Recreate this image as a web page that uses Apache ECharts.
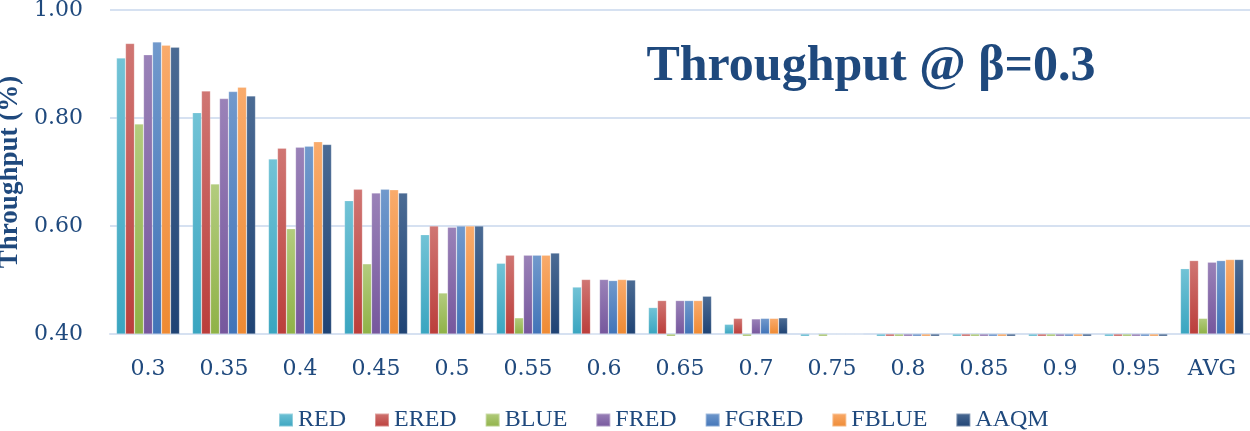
<!DOCTYPE html>
<html>
<head>
<meta charset="utf-8">
<script src="https://cdn.jsdelivr.net/npm/echarts@6/dist/echarts.min.js"></script>
<style>
  html, body { margin: 0; padding: 0; background: #fff; }
  #main { width: 1250px; height: 431px; }
</style>
</head>
<body>
<div id="main"></div>
<script>
// categories (beta values) + average
const categories = ['0.3', '0.35', '0.4', '0.45', '0.5', '0.55', '0.6', '0.65', '0.7', '0.75', '0.8', '0.85', '0.9', '0.95', 'AVG']
const seriesNames = ['RED', 'ERED', 'BLUE', 'FRED', 'FGRED', 'FBLUE', 'AAQM']
const yTicks = [0.4, 0.6, 0.8, 1.0]

// values (below 0.40 = small stub under the axis)
const red   = [0.911, 0.810, 0.724, 0.647, 0.584, 0.531, 0.487, 0.449, 0.418, 0.396, 0.396, 0.396, 0.396, 0.396, 0.521]
const ered  = [0.938, 0.850, 0.744, 0.668, 0.600, 0.546, 0.501, 0.462, 0.429, 0.400, 0.396, 0.396, 0.396, 0.396, 0.536]
const blue  = [0.789, 0.678, 0.595, 0.530, 0.476, 0.430, 0.400, 0.396, 0.396, 0.396, 0.396, 0.396, 0.396, 0.396, 0.429]
const fred  = [0.917, 0.836, 0.746, 0.661, 0.598, 0.546, 0.501, 0.462, 0.428, 0.400, 0.396, 0.396, 0.396, 0.396, 0.533]
const fgred = [0.941, 0.849, 0.748, 0.668, 0.600, 0.546, 0.499, 0.462, 0.429, 0.400, 0.396, 0.396, 0.396, 0.396, 0.536]
const fblue = [0.935, 0.857, 0.756, 0.667, 0.600, 0.546, 0.501, 0.462, 0.429, 0.400, 0.396, 0.396, 0.396, 0.396, 0.538]
const aaqm  = [0.931, 0.841, 0.751, 0.661, 0.600, 0.550, 0.500, 0.470, 0.430, 0.400, 0.396, 0.396, 0.396, 0.396, 0.538]

const allData = [red, ered, blue, fred, fgred, fblue, aaqm]
const colors = [
  ['#72c3d6', '#3aa5c0'],
  ['#d07673', '#bb3e3b'],
  ['#b3cc7e', '#8fb247'],
  ['#9a82b8', '#76579d'],
  ['#7199cc', '#4174b8'],
  ['#f9ab6c', '#ee8a33'],
  ['#4b6b94', '#1f4374'],
]

const textColor = '#1f497d'
const gridColor = '#d6e1f1'

const gradient = (c) => new echarts.graphic.LinearGradient(0, 0, 0, 1, [
  { offset: 0, color: c[0] },
  { offset: 1, color: c[1] },
])

const chart = echarts.init(document.getElementById('main'), null, { renderer: 'canvas' })

const series = seriesNames.map((name, i) => ({
  name: name,
  type: 'bar',
  data: allData[i],
  clip: false,
  barGap: '0%',
  barCategoryGap: '17%',
  itemStyle: {
    color: gradient(colors[i]),
    borderColor: 'rgba(255,255,255,0.35)',
    borderWidth: 0.6,
  },
}))

chart.setOption({
  animation: false,
  title: {
    text: 'Throughput @ β=0.3',
    left: 866,
    top: 37,
    textAlign: 'center',
    textStyle: {
      fontFamily: 'Liberation Serif',
      fontWeight: 'bold',
      fontSize: 50,
      color: textColor,
    },
  },
  legend: {
    data: seriesNames.map((n, i) => ({ name: n, itemStyle: { color: gradient(colors[i]) } })),
    left: 273,
    top: 403,
    itemWidth: 14,
    itemHeight: 13,
    itemGap: 28,
    icon: 'rect',
    textStyle: {
      fontFamily: 'Liberation Serif',
      fontSize: 24,
      color: textColor,
    },
  },
  grid: {
    left: 110,
    right: 0,
    top: 10,
    bottom: 97,
    outerBoundsMode: 'none',
    containLabel: false,
  },
  xAxis: {
    type: 'category',
    data: categories,
    axisLine: { lineStyle: { color: gridColor, width: 2 } },
    axisTick: { show: false },
    axisLabel: {
      margin: 24,
      fontFamily: 'DejaVu Serif',
      fontSize: 22,
      color: textColor,
    },
  },
  yAxis: {
    type: 'value',
    min: yTicks[0],
    max: yTicks[yTicks.length - 1],
    startValue: yTicks[0],
    interval: 0.2,
    name: 'Throughput (%)',
    nameLocation: 'middle',
    nameGap: 84,
    nameTextStyle: {
      fontFamily: 'Liberation Serif',
      fontWeight: 'bold',
      fontSize: 27,
      color: textColor,
    },
    axisLine: { show: false },
    axisTick: { show: false },
    splitLine: { lineStyle: { color: gridColor, width: 2 } },
    axisLabel: {
      margin: 27,
      fontFamily: 'DejaVu Serif',
      fontSize: 22,
      color: textColor,
      formatter: (v) => v.toFixed(2),
    },
  },
  series: series,
})
</script>
</body>
</html>
